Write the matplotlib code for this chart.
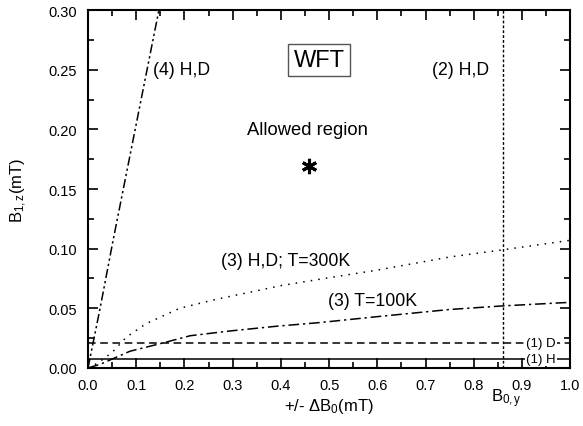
import matplotlib
matplotlib.use("Agg")
import matplotlib.pyplot as plt
from matplotlib.ticker import MultipleLocator
import matplotlib.transforms as mtransforms

plt.rcParams['font.family'] = ['Liberation Sans', 'DejaVu Sans']
plt.rcParams['mathtext.fontset'] = 'custom'
plt.rcParams['mathtext.rm'] = 'Liberation Sans'
plt.rcParams['mathtext.it'] = 'Liberation Sans'

# ---- data ----
line4_x = [0.0, 0.025, 0.052, 0.147]
line4_y = [0.0, 0.050, 0.107, 0.300]

t300_x = [0.0, 0.02, 0.05, 0.08, 0.12, 0.19, 0.26, 0.33, 0.40, 0.49, 0.60, 0.75, 0.86, 1.0]
t300_y = [0.0, 0.004, 0.013, 0.026, 0.037, 0.050, 0.057, 0.063, 0.069, 0.075, 0.082, 0.093, 0.099, 0.107]

t100_x = [0.0, 0.025, 0.087, 0.156, 0.212, 0.295, 0.392, 0.48, 0.60, 0.75, 0.86, 1.0]
t100_y = [0.0, 0.003, 0.014, 0.021, 0.027, 0.031, 0.035, 0.038, 0.043, 0.049, 0.052, 0.055]

d_level = 0.0210
h_level = 0.0072
b0y = 0.86
star_x, star_y = 0.458, 0.169

fig = plt.figure(figsize=(5.83, 4.27), dpi=100)
ax = fig.add_axes([0.151, 0.136, 0.827, 0.838])

ax.plot(line4_x, line4_y, color='black', lw=1.1, ls=(0, (6, 2, 1.5, 2, 1.5, 2)))
ax.plot(t300_x, t300_y, color='black', lw=1.1, ls=(0, (1, 4)))
ax.plot(t100_x, t100_y, color='black', lw=1.1, ls=(0, (7, 2.5, 1.5, 2.5)))
ax.axhline(d_level, color='black', lw=1.1, ls=(0, (5, 3)))
ax.axhline(h_level, color='black', lw=1.1, ls='-')
ax.axvline(b0y, color='black', lw=1.0, ls=(0, (2, 1.5)))
ax.plot([star_x], [star_y], marker=(6, 2, 0), color='black', ms=11, mew=2.2, ls='none')

ax.set_xlim(0, 1.0)
ax.set_ylim(0, 0.30)
ax.xaxis.set_major_locator(MultipleLocator(0.1))
ax.xaxis.set_minor_locator(MultipleLocator(0.05))
ax.yaxis.set_major_locator(MultipleLocator(0.05))
ax.yaxis.set_minor_locator(MultipleLocator(0.025))
ax.xaxis.set_major_formatter(plt.FormatStrFormatter('%.1f'))
ax.yaxis.set_major_formatter(plt.FormatStrFormatter('%.2f'))
ax.tick_params(which='both', direction='in', top=True, right=True, width=1.2, labelsize=10.5)
ax.tick_params(which='major', length=7)
ax.tick_params(which='minor', length=4)
ax.tick_params(axis='x', pad=7)
ax.tick_params(axis='y', pad=8)
for s in ax.spines.values():
    s.set_linewidth(1.5)

ax.set_xlabel(r'+/- $\Delta$B$_0$(mT)', fontsize=12, labelpad=3)
ax.set_ylabel(r'B$_{1,z}$(mT)', fontsize=12, labelpad=14)

ax.text(0.479, 0.258, 'WFT', fontsize=17, ha='center', va='center',
        bbox=dict(boxstyle='square,pad=0.22', fc='white', ec='#555555', lw=1))
ax.text(0.455, 0.200, 'Allowed region', fontsize=13.2, ha='center', va='center')
ax.text(0.195, 0.250, '(4) H,D', fontsize=12.7, ha='center', va='center')
ax.text(0.772, 0.250, '(2) H,D', fontsize=12.7, ha='center', va='center')
ax.text(0.41, 0.090, '(3) H,D; T=300K', fontsize=12.7, ha='center', va='center')
ax.text(0.59, 0.0565, '(3) T=100K', fontsize=12.7, ha='center', va='center')
ax.text(0.94, d_level, '(1) D', fontsize=9.5, ha='center', va='center',
        bbox=dict(boxstyle='square,pad=0.08', fc='white', ec='none'))
ax.text(0.94, h_level, '(1) H', fontsize=9.5, ha='center', va='center',
        bbox=dict(boxstyle='square,pad=0.08', fc='white', ec='none'))

trans = mtransforms.blended_transform_factory(ax.transData, ax.transAxes)
ax.text(0.835, -0.053, r'B$_{0,y}$', fontsize=12, ha='left', va='top', transform=trans)

fig.savefig('out.png', dpi=100)
